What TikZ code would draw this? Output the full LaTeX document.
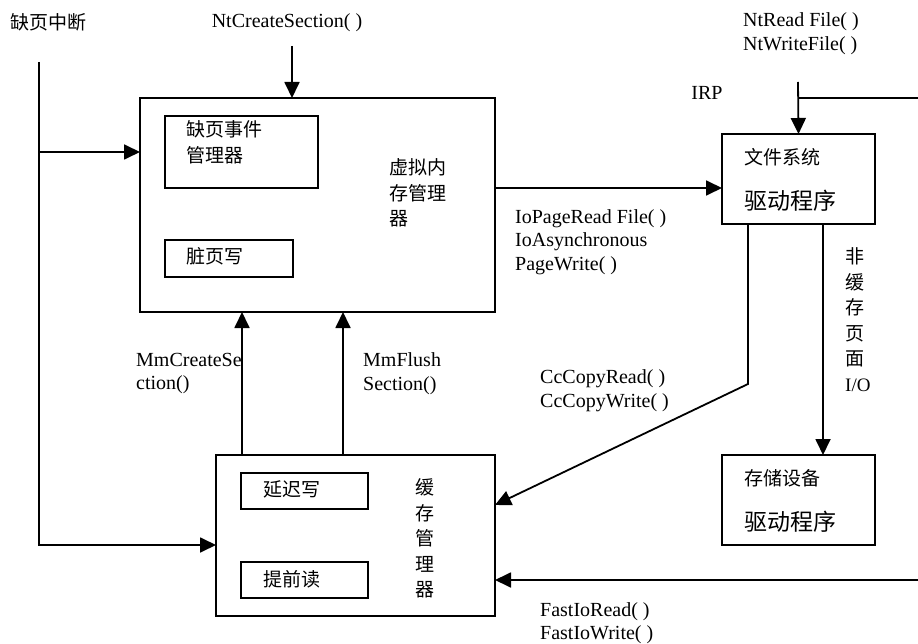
\documentclass[tikz,border=0pt]{standalone}
\usepackage{fontspec}
\setmainfont{Liberation Serif}
\newfontfamily\cjk{Noto Sans CJK SC}
\usetikzlibrary{arrows.meta,positioning,calc}

\tikzset{
  box/.style={draw,line width=1.8pt,inner sep=0pt,outer sep=0pt},
  lbl/.style={font=\fontsize{20}{23.5}\selectfont,inner sep=0pt,align=left,anchor=west},
  zh/.style={font=\cjk\fontsize{19}{25.5}\selectfont,inner sep=0pt,align=left,anchor=west},
  zhbig/.style={font=\cjk\fontsize{23}{26}\selectfont,inner sep=0pt,anchor=west},
  link/.style={line width=1.8pt,-{Triangle[length=16pt,width=15pt]}},
  wire/.style={line width=1.8pt}
}

\begin{document}
\begin{tikzpicture}[x=1pt,y=-1pt]
  \useasboundingbox (0,0) rectangle (918,644);
  % virtual memory manager with its two parts
  \node[box,minimum width=355pt,minimum height=214pt] (vmm) at (317.5,205) {};
  \node[box,minimum width=153pt,minimum height=72pt] (pfm) at (241.5,152) {};
  \node[box,minimum width=128pt,minimum height=37pt] (dpw) at (229,258.5) {};
  \node[zh] (pfmtxt) at (186,142.5) {缺页事件\\管理器};
  \node[zh] (dpwtxt) at (186,256) {脏页写};
  \node[zh] (vmmtxt) at (389,193) {虚拟内\\存管理\\器};
  % cache manager
  \node[box,minimum width=279pt,minimum height=161pt] (cache) at (355.5,535.5) {};
  \node[box,minimum width=127pt,minimum height=36pt] (lzw) at (304.5,491) {};
  \node[box,minimum width=127pt,minimum height=36pt] (rah) at (304.5,580) {};
  \node[zh] (lzwtxt) at (263,489) {延迟写};
  \node[zh] (rahtxt) at (263,579) {提前读};
  \node[zh] (cachetxt) at (415,538.5) {缓\\存\\管\\理\\器};
  % drivers
  \node[box,minimum width=153pt,minimum height=90pt] (fs) at (798.5,179) {};
  \node[zh] (fstxt) at (744,157) {文件系统};
  \node[zhbig] (fsdrv) at (744,201) {驱动程序};
  \node[box,minimum width=153pt,minimum height=90pt] (sd) at (798.5,500) {};
  \node[zh] (sdtxt) at (744,478) {存储设备};
  \node[zhbig] (sddrv) at (744,522) {驱动程序};
  % free labels
  \node[zh] (pfint) at (10,22) {缺页中断};
  \node[lbl,anchor=center] (ncs) at (287,23) {NtCreateSection( )};
  \node[lbl] (ntrw) at (743,33.5) {NtRead File( )\\NtWriteFile( )};
  \node[lbl,anchor=center] (irp) at (707,93) {IRP};
  \node[lbl] (iopr) at (515,242) {IoPageRead File( )\\IoAsynchronous\\PageWrite( )};
  \node[lbl] (mmcs) at (136,373.5) {MmCreateSe\\ction()};
  \node[lbl] (mmfs) at (363,373.5) {MmFlush\\Section()};
  \node[lbl] (ccrw) at (540,390.5) {CcCopyRead( )\\CcCopyWrite( )};
  \node[zh] (ncio) at (845,319.5) {非\\缓\\存\\页\\面\\{\rmfamily I/O}};
  \node[lbl] (fiorw) at (540,623) {FastIoRead( )\\FastIoWrite( )};
  % free ends of the connectors
  \coordinate (pftop) at (39,62);
  \coordinate (pfvmm) at (39,152);
  \coordinate (pfcache) at (39,545);
  \coordinate (ncsin) at (292,46);
  \coordinate (ntin) at (798,82);
  \coordinate (irpin) at (918,98);
  \coordinate (ccbend) at (748,384);
  \coordinate (fioin) at (918,580);
  % connectors
  \draw[link] (pftop) -- (pfcache) -- (cache.west |- pfcache);
  \draw[link] (pfvmm) -- (vmm.west |- pfvmm);
  \draw[link] (ncsin) -- (vmm.north -| ncsin);
  \draw[link] (vmm.east |- 0,188) -- (fs.west |- 0,188);
  \draw[link] (ntin) -- (fs.north);
  \draw[wire] (irpin) -- (fs.north |- irpin);
  \draw[link] (fs.south -| ccbend) -- (ccbend) -- (cache.east |- 0,505);
  \draw[link] (fs.south -| 823,0) -- (sd.north -| 823,0);
  \draw[link] (cache.north -| 242,0) -- (vmm.south -| 242,0);
  \draw[link] (cache.north -| 343,0) -- (vmm.south -| 343,0);
  \draw[link] (fioin) -- (cache.east |- fioin);
\end{tikzpicture}
\end{document}
